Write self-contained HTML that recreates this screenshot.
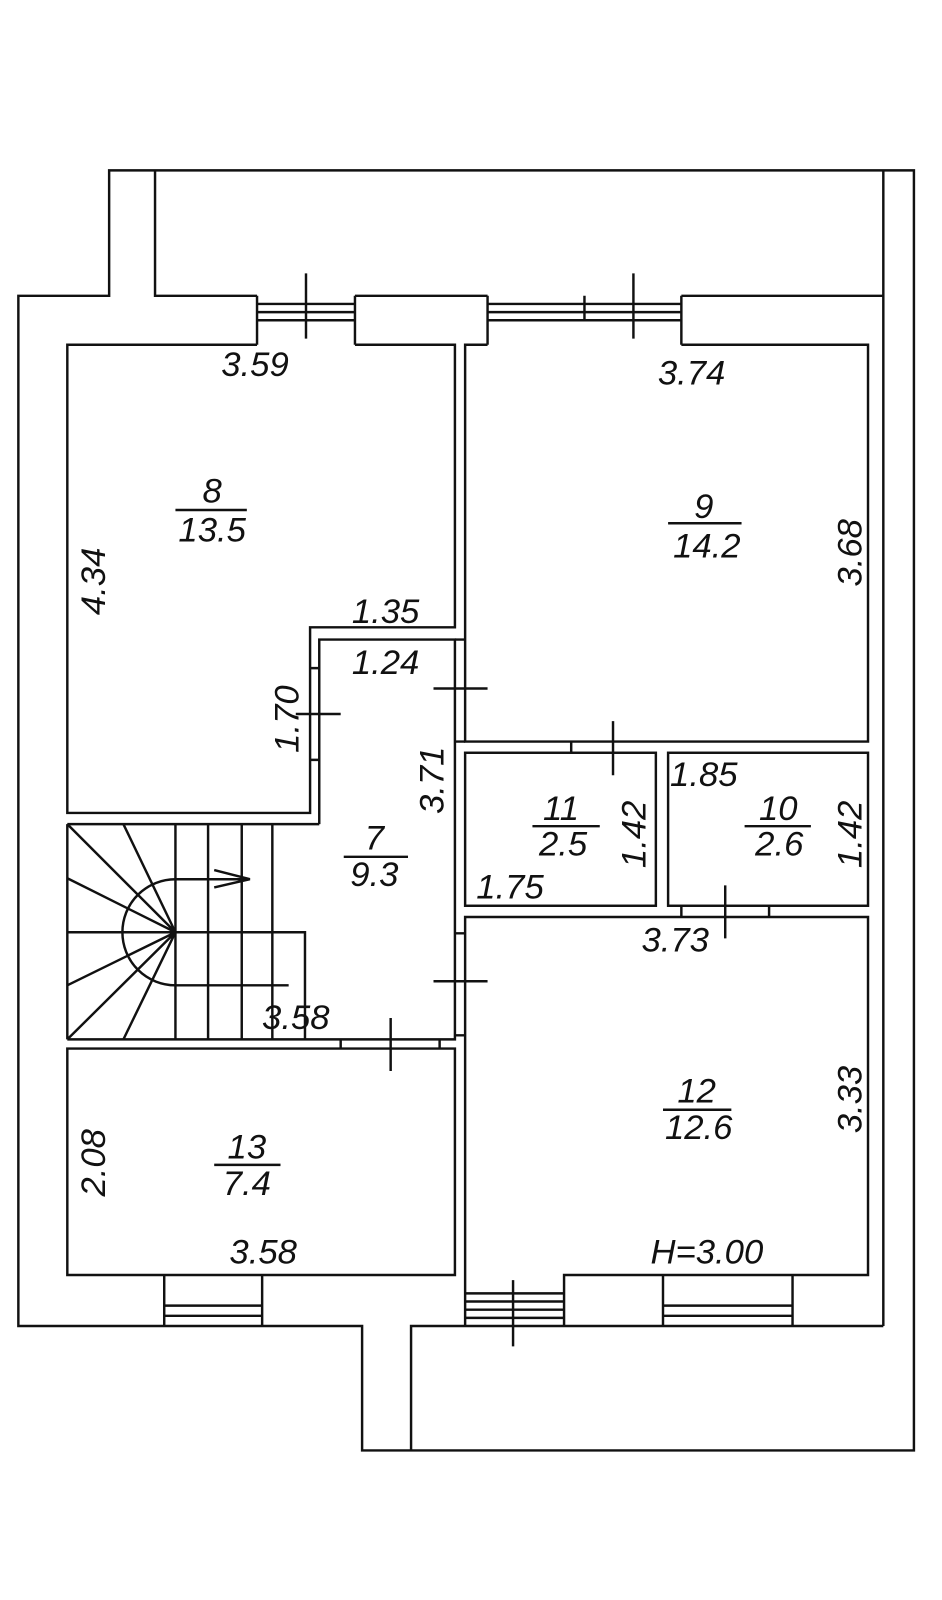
<!DOCTYPE html>
<html><head><style>html,body{margin:0;padding:0;background:#fff}svg{display:block}text{font-family:"Liberation Sans",sans-serif;font-style:italic;font-size:34px;fill:#111;text-anchor:middle;dominant-baseline:central}</style></head>
<body>
<svg width="942" height="1600" viewBox="0 0 942 1600" xmlns="http://www.w3.org/2000/svg">
<g transform="scale(1.02)">
<g fill="none" stroke="#111" stroke-width="2.4">
<path d="M107,167 H896 V1422 H355 V1300 H18 V290 H107 Z"/>
<path d="M152,167 V290 H252 M348,290 H478 M668,290 H866 M866,167 V1300 M403,1422 V1300 H866"/>
<path d="M252,290 V338 M348,290 V338 M252,298 H348 M252,306 H348 M252,314 H348 M300,268 V332"/>
<path d="M478,290 V338 M668,290 V338 M573,290 V314 M478,298 H668 M478,306 H668 M478,314 H668 M621,268 V332"/>
<path d="M252,338 H66 V797 H304 V615 H446 V338 H348"/>
<path d="M478,338 H456 V727 H851 V338 H668"/>
<path d="M313,808 V627 H446 V1019 H66"/>
<path d="M446,627 H456 M446,727 H456 M425,675 H478"/>
<path d="M304,655 H313 M304,745 H313 M290,700 H334"/>
<path d="M66,808 H313 M66,808 V1019 M172,808 V1019 M204,808 V1019 M237,808 V1019 M267,808 V1019 M66,914 H299 V1019"/>
<path d="M172,914 L66,808 M172,914 L121,808 M172,914 L66,861 M172,914 L66,966 M172,914 L66,1019 M172,914 L121,1019"/>
<path d="M172,862 A52,52 0 0 0 172,966 M172,862 H245 M210,853 L245,862 L210,870 M172,966 H283"/>
<path d="M66,1028 H446 V1250 H66 Z"/>
<path d="M334,1019 V1028 M431,1019 V1028 M383,998 V1050"/>
<path d="M161,1250 V1300 M257,1250 V1300 M161,1280 H257 M161,1290 H257"/>
<rect x="456" y="738" width="187" height="150"/>
<rect x="655" y="738" width="196" height="150"/>
<path d="M560,727 V738 M601,707 V760"/>
<path d="M668,888 V899 M754,888 V899 M711,868 V920"/>
<path d="M456,1300 V899 H851 V1250 H553 V1300"/>
<path d="M446,915 H456 M446,1015 H456 M425,962 H478"/>
<path d="M456,1268 H553 M456,1276 H553 M456,1284 H553 M456,1292 H553 M503,1255 V1320"/>
<path d="M650,1250 V1300 M777,1250 V1300 M650,1280 H777 M650,1290 H777"/>
<path d="M172,500 H242 M655,513 H727 M337,840 H400 M522,810 H588 M730,810 H795 M650,1088 H717 M210,1142 H275"/>
</g>
<text x="250" y="358">3.59</text>
<text x="678" y="366">3.74</text>
<text x="208" y="482">8</text><text x="208" y="520">13.5</text>
<text x="690" y="497">9</text><text x="693" y="536">14.2</text>
<text transform="translate(92,570) rotate(-90)">4.34</text>
<text transform="translate(834,542) rotate(-90)">3.68</text>
<text x="378" y="600">1.35</text>
<text x="378" y="650">1.24</text>
<text transform="translate(282,705) rotate(-90)">1.70</text>
<text transform="translate(424,765) rotate(-90)">3.71</text>
<text x="367" y="822">7</text><text x="367" y="858">9.3</text>
<text x="550" y="793">11</text><text x="552" y="828">2.5</text>
<text transform="translate(622,818) rotate(-90)">1.42</text>
<text x="690" y="760">1.85</text>
<text x="763" y="793">10</text><text x="764" y="828">2.6</text>
<text transform="translate(834,818) rotate(-90)">1.42</text>
<text x="500" y="870">1.75</text>
<text x="662" y="922">3.73</text>
<text x="290" y="998">3.58</text>
<text x="683" y="1070">12</text><text x="685" y="1106">12.6</text>
<text transform="translate(834,1078) rotate(-90)">3.33</text>
<text x="242" y="1125">13</text><text x="242" y="1161">7.4</text>
<text transform="translate(92,1140) rotate(-90)">2.08</text>
<text x="258" y="1228">3.58</text>
<text x="693" y="1228">H=3.00</text>
</g>
</svg>
</body></html>
